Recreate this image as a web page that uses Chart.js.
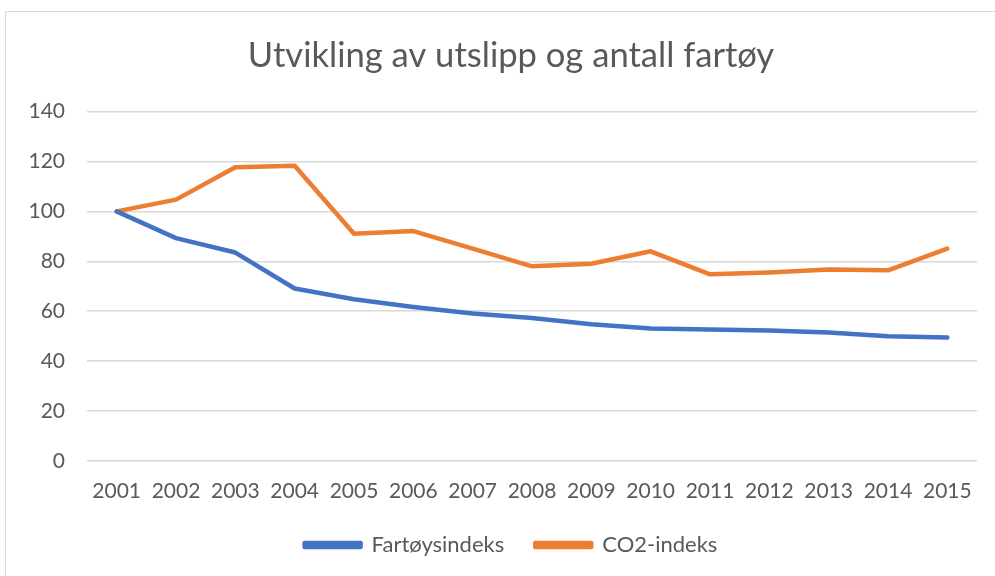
<!DOCTYPE html>
<html>
<head>
<meta charset="utf-8">
<script src="https://cdn.jsdelivr.net/npm/chart.js@4/dist/chart.umd.min.js"></script>
<style>
  html, body { margin: 0; padding: 0; background: #fff; overflow: hidden; width: 995px; height: 576px; }
  #box { position: absolute; left: 5px; top: 11px; width: 1020px; height: 580px; border: 1px solid #d9d9d9; box-sizing: border-box; }
  #wrap { position: absolute; left: 0; top: 0; width: 1010px; height: 564px; }
</style>
</head>
<body>
<div id="box"><div id="wrap"><canvas id="c"></canvas></div></div>
<script>
const categories = ["2001","2002","2003","2004","2005","2006","2007","2008","2009","2010","2011","2012","2013","2014","2015"];
const fartoysindeks = [100, 89.3, 83.5, 69.1, 64.8, 61.7, 59.1, 57.3, 54.8, 53.1, 52.7, 52.3, 51.5, 50.0, 49.5];
const co2indeks = [100, 104.7, 117.7, 118.3, 91.0, 92.1, 85.1, 78.0, 79.0, 84.0, 74.8, 75.5, 76.7, 76.4, 85.1];
const yTicks = [0, 20, 40, 60, 80, 100, 120, 140];

const FONT = "Lato, 'Open Sans', sans-serif";
const GREY = "#595959";

new Chart(document.getElementById("c"), {
  type: "line",
  data: {
    labels: categories,
    datasets: [
      { label: "Fartøysindeks", data: fartoysindeks, borderColor: "#4472C4", backgroundColor: "#4472C4", borderWidth: 4.5, pointRadius: 0, tension: 0, borderCapStyle: "round", borderJoinStyle: "round" },
      { label: "CO2-indeks", data: co2indeks, borderColor: "#ED7D31", backgroundColor: "#ED7D31", borderWidth: 4.5, pointRadius: 0, tension: 0, borderCapStyle: "round", borderJoinStyle: "round" }
    ]
  },
  options: {
    responsive: true,
    maintainAspectRatio: false,
    animation: false,
    layout: { padding: { left: 0, right: 0, top: 0, bottom: 10 } },
    plugins: {
      title: { display: true, text: "Utvikling av utslipp og antall fartøy", color: GREY, font: { family: FONT, size: 34.6, weight: "normal" }, padding: { top: 23, bottom: 35 } },
      legend: { position: "bottom", labels: { color: GREY, font: { family: FONT, size: 22 }, boxWidth: 56, boxHeight: 4, padding: 31 } },
      tooltip: { enabled: false }
    },
    scales: {
      x: {
        offset: true,
        afterFit: (s) => { s.height = 42; },
        grid: { display: false, drawTicks: false },
        border: { display: false },
        ticks: { color: GREY, font: { family: FONT, size: 21 }, padding: 18, maxRotation: 0 }
      },
      y: {
        min: 0, max: 140,
        afterBuildTicks: (s) => { s.ticks = yTicks.map(v => ({ value: v })); },
        afterFit: (s) => { s.width = 81; },
        grid: { color: "#d9d9d9", lineWidth: 1.5, drawTicks: false },
        border: { display: false },
        ticks: { color: GREY, font: { family: FONT, size: 21 }, padding: 22 }
      },
      yRight: {
        position: "right",
        display: true,
        min: 0, max: 140,
        afterFit: (s) => { s.width = 39; },
        grid: { display: false, drawTicks: false },
        border: { display: false },
        ticks: { display: false }
      }
    }
  }
});
</script>
</body>
</html>
